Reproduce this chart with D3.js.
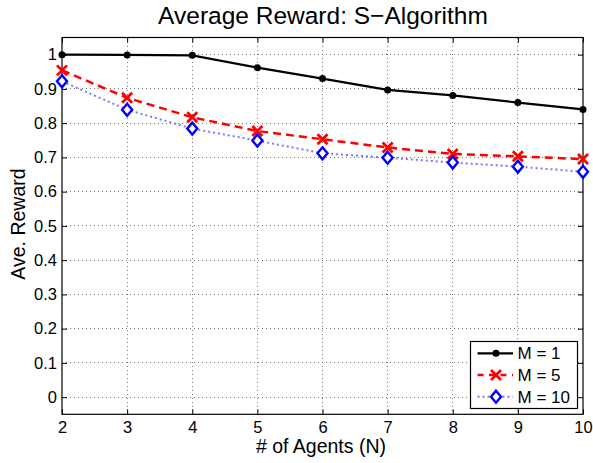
<!DOCTYPE html>
<html><head><meta charset="utf-8">
<script src="https://cdn.jsdelivr.net/npm/d3@7"></script>
<style>body{margin:0;background:#fff;}svg{display:block;font-family:"Liberation Sans",Arial,sans-serif;}</style>
</head><body>
<svg id="c" width="593" height="463"></svg>
<script>
const agents = [2,3,4,5,6,7,8,9,10];
const m1 = [1.000,0.999,0.998,0.962,0.930,0.897,0.881,0.860,0.840];
const m5 = [0.954,0.874,0.817,0.777,0.753,0.729,0.710,0.703,0.695];
const m10 = [0.922,0.839,0.784,0.749,0.712,0.699,0.685,0.673,0.658];
const xTicks = [2,3,4,5,6,7,8,9,10];
const yTicks = [0,0.1,0.2,0.3,0.4,0.5,0.6,0.7,0.8,0.9,1];
const seriesNames = ["M = 1","M = 5","M = 10"];

const svg = d3.select("#c");
const L=62, R=583, T=37.5, B=414.3;
const x = d3.scaleLinear().domain([2,10]).range([L,R]);
const y = d3.scaleLinear().domain([-0.05,1.05]).range([B,T]);

// grid
const g = svg.append("g");
g.selectAll(".gx").data(xTicks.slice(1,-1)).join("line")
 .attr("x1",d=>x(d)).attr("x2",d=>x(d)).attr("y1",T).attr("y2",B)
 .attr("stroke","#777").attr("stroke-width",1).attr("stroke-dasharray","1,3").attr("shape-rendering","crispEdges");
g.selectAll(".gy").data(yTicks).join("line")
 .attr("x1",L).attr("x2",R).attr("y1",d=>y(d)).attr("y2",d=>y(d))
 .attr("stroke","#777").attr("stroke-width",1).attr("stroke-dasharray","1,3").attr("shape-rendering","crispEdges");

// axes
const fs = "16.5px";
const ax = svg.append("g").attr("transform",`translate(0,${B})`).call(d3.axisBottom(x).tickValues(xTicks).tickSizeInner(-5).tickSizeOuter(0).tickPadding(7).tickFormat(d3.format("d")));
const ay = svg.append("g").attr("transform",`translate(${L},0)`).call(d3.axisLeft(y).tickValues(yTicks).tickSizeInner(-5).tickSizeOuter(0).tickPadding(5).tickFormat(d=>d===0?"0":d===1?"1":d3.format(".1f")(d)));
const axT = svg.append("g").attr("transform",`translate(0,${T})`).call(d3.axisTop(x).tickValues(xTicks).tickSizeInner(-5).tickSizeOuter(0).tickFormat(""));
const ayR = svg.append("g").attr("transform",`translate(${R},0)`).call(d3.axisRight(y).tickValues(yTicks).tickSizeInner(-5).tickSizeOuter(0).tickFormat(""));
[ax,ay,axT,ayR].forEach(a=>{a.select(".domain").remove();a.selectAll("line").attr("stroke","#000");
 a.selectAll("text").attr("font-size",fs).attr("font-family","Liberation Sans, Arial, sans-serif").attr("fill","#000");});
svg.append("rect").attr("x",L).attr("y",T).attr("width",R-L).attr("height",B-T).attr("fill","none").attr("stroke","#000").attr("stroke-width",1.2);

// lines
const line = d3.line().x((d,i)=>x(agents[i])).y(d=>y(d));
svg.append("path").datum(m1).attr("d",line).attr("fill","none").attr("stroke","#000").attr("stroke-width",2.2);
svg.append("path").datum(m5).attr("d",line).attr("fill","none").attr("stroke","#f00").attr("stroke-width",2.5).attr("stroke-dasharray","8,5");
svg.append("path").datum(m10).attr("d",line).attr("fill","none").attr("stroke","#55f").attr("stroke-width",2).attr("stroke-dasharray","2,3").attr("opacity",0.8);

function circ(sel,cx,cy){sel.append("circle").attr("cx",cx).attr("cy",cy).attr("r",3.5).attr("fill","#000");}
function cross(sel,cx,cy){const s=5;sel.append("path").attr("d",`M${cx-s},${cy-s}L${cx+s},${cy+s}M${cx-s},${cy+s}L${cx+s},${cy-s}`).attr("stroke","#f00").attr("stroke-width",2.8).attr("fill","none");}
function diam(sel,cx,cy){const w=5,h=6;sel.append("path").attr("d",`M${cx},${cy-h}L${cx+w},${cy}L${cx},${cy+h}L${cx-w},${cy}Z`).attr("stroke","#00f").attr("stroke-width",2.4).attr("fill","#fff");}
const mk = svg.append("g");
m1.forEach((d,i)=>circ(mk,x(agents[i]),y(d)));
m5.forEach((d,i)=>cross(mk,x(agents[i]),y(d)));
m10.forEach((d,i)=>diam(mk,x(agents[i]),y(d)));

// title & labels
svg.append("text").attr("x",323).attr("y",23.5).attr("text-anchor","middle").attr("font-size","24.5px").text("Average Reward: S\u2212Algorithm");
svg.append("text").attr("x",321).attr("y",452.5).attr("text-anchor","middle").attr("font-size","19.5px").text("# of Agents (N)");
svg.append("text").attr("transform","translate(25,224) rotate(-90)").attr("text-anchor","middle").attr("font-size","19.5px").text("Ave. Reward");

// legend
const lg = svg.append("g");
lg.append("rect").attr("x",470.5).attr("y",341.5).attr("width",107).attr("height",67).attr("fill","#fff").attr("stroke","#000").attr("stroke-width",1.2);
const ly = [353.3,375,396.7];
const styles = [
 {stroke:"#000",w:2.2,dash:null,op:1},
 {stroke:"#f00",w:2.5,dash:"8,5",op:1},
 {stroke:"#55f",w:2,dash:"2,3",op:0.8}];
seriesNames.forEach((n,i)=>{
 const l=lg.append("line").attr("x1",477.5).attr("x2",513).attr("y1",ly[i]).attr("y2",ly[i]).attr("stroke",styles[i].stroke).attr("stroke-width",styles[i].w).attr("opacity",styles[i].op);
 if(styles[i].dash) l.attr("stroke-dasharray",i===1?"6,5.5":"2,3");
 [circ,cross,diam][i](lg,496,ly[i]);
 lg.append("text").attr("x",517.5).attr("y",ly[i]+6).attr("font-size","17px").text(n);
});
</script>
</body></html>
